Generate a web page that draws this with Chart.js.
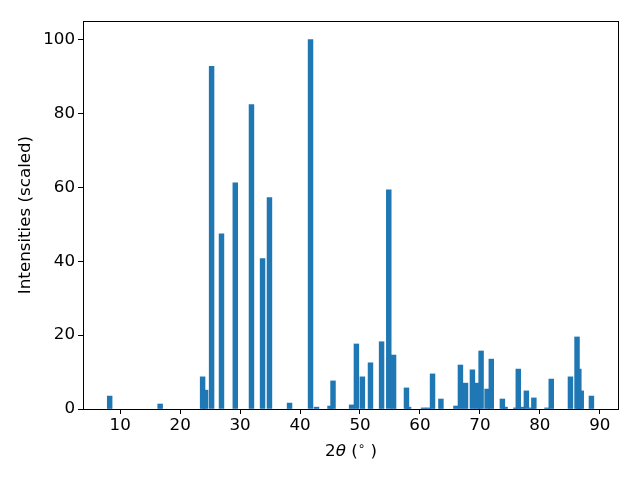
<!DOCTYPE html>
<html>
<head>
<meta charset="utf-8">
<script src="https://cdn.jsdelivr.net/npm/chart.js@4"></script>
<style>
  html, body { margin: 0; padding: 0; background: #fff; }
  #c { display: block; }
</style>
</head>
<body>
<canvas id="c" width="640" height="480"></canvas>
<script>
(function () {
    'use strict';

    // peak positions (2-theta, degrees) and scaled intensities
    var twoTheta = [8.25, 16.67, 23.75, 24.25, 25.25, 26.9, 29.2, 31.9, 33.75, 34.9,
        38.25, 41.75, 42.75, 45.0, 45.5, 48.6, 49.4, 50.4, 51.75, 53.6,
        54.8, 55.6, 57.75, 58.1, 60.6, 61.4, 62.1, 63.5, 66.0, 66.75,
        67.6, 68.75, 69.6, 70.2, 71.2, 71.9, 73.75, 74.2, 76.0, 76.4,
        77.0, 77.75, 78.6, 79.0, 81.2, 81.9, 85.1, 86.2, 86.5, 86.9, 88.6];
    var intensity = [3.5, 1.35, 8.7, 5.1, 92.7, 47.4, 61.2, 82.4, 40.7, 57.2,
        1.6, 100, 0.5, 0.8, 7.6, 1.1, 17.6, 8.7, 12.5, 18.2,
        59.3, 14.6, 5.7, 0.5, 0.3, 0.3, 9.5, 2.7, 0.8, 11.9,
        7.0, 10.6, 7.0, 15.7, 5.4, 13.5, 2.7, 0.5, 0.3, 10.8,
        0.5, 4.9, 0.3, 3.0, 0.3, 8.1, 8.7, 19.5, 10.8, 4.9, 3.5];
    var xTicks = [10, 20, 30, 40, 50, 60, 70, 80, 90];
    var yTicks = [0, 20, 40, 60, 80, 100];

    var FONT = '"DejaVu Sans", sans-serif';
    var FS = 16.7;
    var BLUE = '#1f77b4';

    var points = twoTheta.map(function (x, i) { return { x: x, y: intensity[i] }; });

    // frame + axis titles, drawn by hand like matplotlib
    var decor = {
        id: 'decor',
        afterDraw: function (chart) {
            var ctx = chart.ctx, a = chart.chartArea;
            ctx.save();
            ctx.strokeStyle = '#000';
            ctx.lineWidth = 1;
            ctx.strokeRect(Math.round(a.left) + 0.5, Math.round(a.top) + 0.5,
                Math.round(a.right - a.left) - 1, Math.round(a.bottom - a.top));

            ctx.fillStyle = '#000';
            ctx.textBaseline = 'middle';

            // y title
            ctx.save();
            ctx.translate(26, (a.top + a.bottom) / 2);
            ctx.rotate(-Math.PI / 2);
            ctx.textAlign = 'center';
            ctx.font = FS + 'px ' + FONT;
            ctx.fillText('Intensities (scaled)', 0, 0);
            ctx.restore();

            // x title: 2θ (°) with italic theta and superscript circle
            var parts = [
                { t: '2', f: FS + 'px ' + FONT, dy: 0 },
                { t: 'θ', f: 'oblique ' + FS + 'px ' + FONT, dy: 0 },
                { t: ' (', f: FS + 'px ' + FONT, dy: 0 },
                { t: '∘', f: '12px ' + FONT, dy: -5 },
                { t: ' )', f: FS + 'px ' + FONT, dy: 0 }
            ];
            var total = 0;
            parts.forEach(function (p) { ctx.font = p.f; p.w = ctx.measureText(p.t).width; total += p.w; });
            var x = (a.left + a.right) / 2 - total / 2;
            ctx.textAlign = 'left';
            parts.forEach(function (p) {
                ctx.font = p.f;
                ctx.fillText(p.t, x, 452 + p.dy);
                x += p.w;
            });
            ctx.restore();
        }
    };

    new Chart(document.getElementById('c'), {
        type: 'bar',
        data: {
            datasets: [{
                data: points,
                backgroundColor: BLUE,
                borderWidth: 0,
                barThickness: 4.8
            }]
        },
        options: {
            responsive: false,
            animation: false,
            devicePixelRatio: 1,
            layout: { padding: { left: 0, right: 21, top: 21, bottom: 0 } },
            plugins: { legend: { display: false }, tooltip: { enabled: false } },
            scales: {
                x: {
                    type: 'linear',
                    min: 3.8,
                    max: 93.2,
                    offset: false,
                    afterBuildTicks: function (s) { s.ticks = xTicks.map(function (v) { return { value: v }; }); },
                    afterFit: function (s) { s.height = 71; },
                    grid: { display: true, offset: false, drawOnChartArea: false, drawTicks: true, tickLength: 5, tickColor: '#000', tickWidth: 1 },
                    border: { display: false },
                    ticks: { color: '#000', font: { family: FONT, size: FS }, padding: 2, maxRotation: 0, autoSkip: false }
                },
                y: {
                    min: 0,
                    max: 105,
                    afterBuildTicks: function (s) { s.ticks = yTicks.map(function (v) { return { value: v }; }); },
                    afterFit: function (s) { s.width = 83; },
                    grid: { display: true, offset: false, drawOnChartArea: false, drawTicks: true, tickLength: 5, tickColor: '#000', tickWidth: 1 },
                    border: { display: false },
                    ticks: { color: '#000', font: { family: FONT, size: FS }, padding: 3, autoSkip: false }
                }
            }
        },
        plugins: [decor]
    });
})();
</script>
</body>
</html>
